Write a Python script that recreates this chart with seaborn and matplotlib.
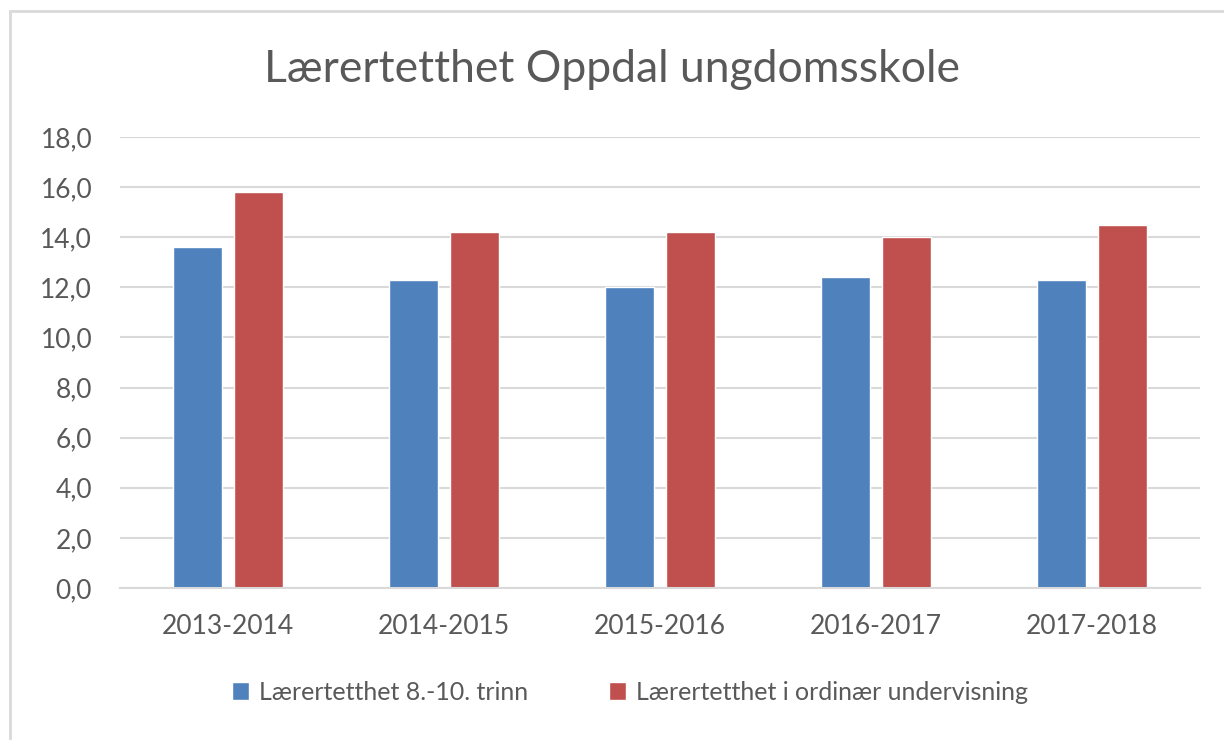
import matplotlib
matplotlib.use("Agg")
import matplotlib.pyplot as plt
import seaborn as sns
import pandas as pd
from matplotlib.patches import Rectangle
from matplotlib.ticker import FuncFormatter

years = ["2013-2014", "2014-2015", "2015-2016", "2016-2017", "2017-2018"]
trinn_8_10 = [13.6, 12.3, 12.0, 12.4, 12.3]
ordinaer = [15.8, 14.2, 14.2, 14.0, 14.5]
series = ["Lærertetthet 8.-10. trinn", "Lærertetthet i ordinær undervisning"]
colors = ["#4F81BD", "#C0504D"]

df = pd.DataFrame({
    "year": years * 2,
    "value": trinn_8_10 + ordinaer,
    "series": [series[0]] * len(years) + [series[1]] * len(years),
})

sns.set_theme(style="white")
plt.rcParams["font.family"] = ["Lato", "DejaVu Sans"]
text_color = "#595959"

fig = plt.figure(figsize=(12.24, 7.4), dpi=100)
ax = fig.add_axes([120 / 1224, 1 - 588 / 740, 1080 / 1224, 451 / 740])

sns.barplot(data=df, x="year", y="value", hue="series", palette=colors,
            width=0.565, gap=0.197, saturation=1, ax=ax, legend=True)

ax.set_ylim(0, 18)
ax.set_yticks(range(0, 19, 2))
ax.yaxis.set_major_formatter(FuncFormatter(lambda v, p: f"{v:.1f}".replace(".", ",")))
ax.grid(axis="y", color="#d9d9d9", linewidth=1.5)
ax.set_axisbelow(True)
for s in ["top", "right", "left"]:
    ax.spines[s].set_visible(False)
ax.spines["bottom"].set_color("#d9d9d9")
ax.spines["bottom"].set_linewidth(1.5)
ax.tick_params(axis="both", length=0, labelsize=19, labelcolor=text_color)
ax.tick_params(axis="y", pad=20)
ax.tick_params(axis="x", pad=19)
ax.set_xlabel("")
ax.set_ylabel("")

ax.legend(loc="center", bbox_to_anchor=(630 / 1224, 1 - 692 / 740), bbox_transform=fig.transFigure,
          ncol=2, frameon=False, fontsize=18, labelcolor=text_color,
          handlelength=0.7, handleheight=0.7, columnspacing=3.2, handletextpad=0.4)

fig.text(0.5, 1 - 70 / 740, "Lærertetthet Oppdal ungdomsskole", ha="center", va="center",
         fontsize=32, color=text_color)

fig.patches.append(Rectangle((10 / 1224, -0.1), 1.2, 1 - 11 / 740 + 0.1, transform=fig.transFigure,
                             fill=False, edgecolor="#d9d9d9", linewidth=2))

fig.savefig("out.png", dpi=100, facecolor="white")
